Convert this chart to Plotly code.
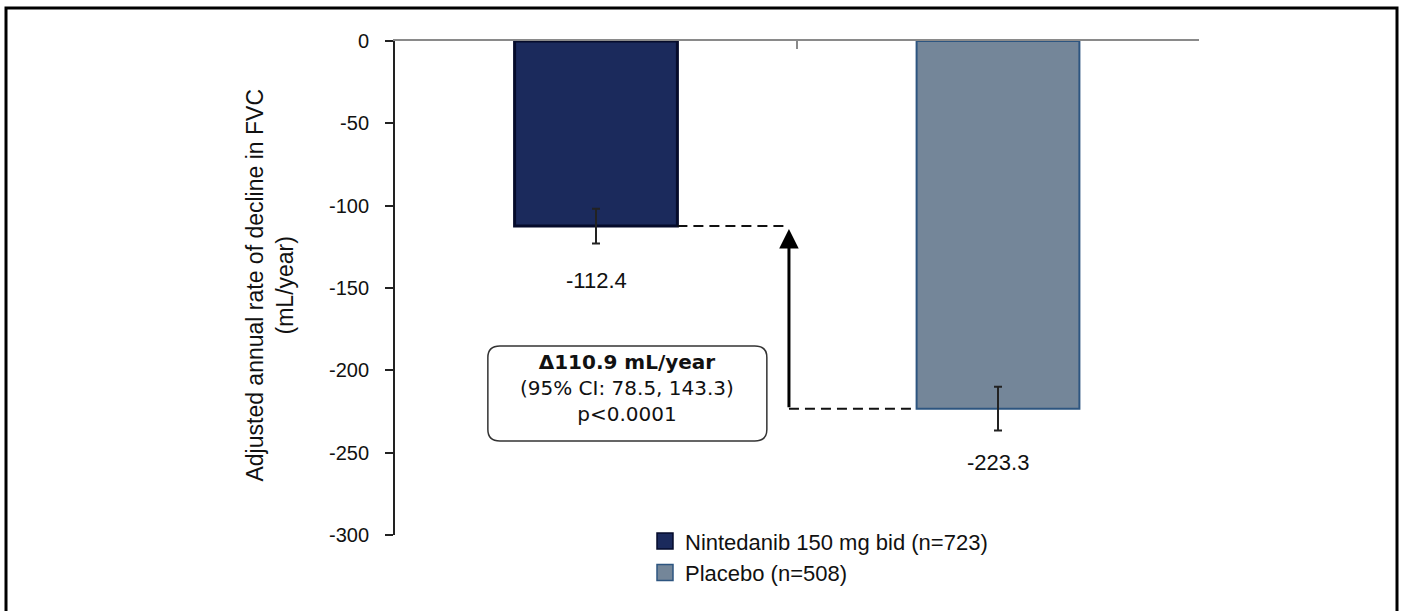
import plotly.graph_objects as go

# Treatment groups and adjusted annual FVC decline (mL/year)
groups = ["Nintedanib 150 mg bid (n=723)", "Placebo (n=508)"]
rates = [-112.4, -223.3]
errors = [10.5, 13.3]
fills = ["#1b2a5c", "#748699"]
outlines = ["#050b2b", "#2d5580"]

# Treatment difference summary
ci_low, ci_high = 78.5, 143.3
p_text = "p<0.0001"

y_ticks = [0, -50, -100, -150, -200, -250, -300]
y_tick_text = ["0", "-50", "-100", "-150", "-200", "-250", "-300"]

W, H = 1405, 611
M_L, M_R, M_T, M_B = 395, 206, 41, 76
BAR_W = 0.405
ARROW_X = 0.48
FONT = "Liberation Sans, Arial, sans-serif"
BOX_FONT = "DejaVu Sans, Liberation Sans, sans-serif"

fig = go.Figure()

for i, (g, v, e, f, o) in enumerate(zip(groups, rates, errors, fills, outlines)):
    fig.add_trace(go.Bar(
        x=[i], y=[v], width=BAR_W, name=g, showlegend=False,
        marker=dict(color=f, line=dict(color=o, width=3 if i == 0 else 2)),
        error_y=dict(type="data", array=[e], visible=True,
                     color="#222222", thickness=2, width=4),
    ))
    # legend swatch
    fig.add_trace(go.Scatter(
        x=[None], y=[None], mode="markers", name=g,
        marker=dict(symbol="square", size=16, color=f,
                    line=dict(color=o, width=1.5)),
    ))
    # value label under each bar
    fig.add_annotation(x=i, y=v, text=f"{v:.1f}", showarrow=False,
                       yshift=-54, font=dict(size=22, color="#111111", family=FONT))

# dashed connectors from each bar to the difference arrow
fig.add_shape(type="line", xref="x", yref="y",
              x0=0 + BAR_W / 2, x1=ARROW_X, y0=rates[0], y1=rates[0],
              line=dict(color="#111111", width=2, dash="10px,6px"))
fig.add_shape(type="line", xref="x", yref="y",
              x0=ARROW_X, x1=1 - BAR_W / 2, y0=rates[1], y1=rates[1],
              line=dict(color="#111111", width=2, dash="10px,6px"))

# vertical arrow showing the treatment difference
fig.add_annotation(x=ARROW_X, y=rates[0], ax=ARROW_X, ay=rates[1],
                   xref="x", yref="y", axref="x", ayref="y", text="",
                   showarrow=True, arrowhead=2, arrowsize=1.3, arrowwidth=3,
                   arrowcolor="#000000", standoff=3)

# rounded summary box
bx0, bx1 = -0.269, 0.425
by0, by1 = -242.9, -185.2
rx, ry = 0.03, 7.0
path = (f"M {bx0+rx},{by1} L {bx1-rx},{by1} Q {bx1},{by1} {bx1},{by1-ry} "
        f"L {bx1},{by0+ry} Q {bx1},{by0} {bx1-rx},{by0} "
        f"L {bx0+rx},{by0} Q {bx0},{by0} {bx0},{by0+ry} "
        f"L {bx0},{by1-ry} Q {bx0},{by1} {bx0+rx},{by1} Z")
fig.add_shape(type="path", xref="x", yref="y", path=path,
              line=dict(color="#333333", width=1.5), fillcolor="white")

delta = rates[0] - rates[1]
cx, cy = (bx0 + bx1) / 2, (by0 + by1) / 2
box_text = (f"<b>\u0394{delta:.1f} mL/year</b><br>"
            f"(95% CI: {ci_low}, {ci_high})<br>{p_text}")
fig.add_annotation(x=cx, y=cy, xref="x", yref="y", text=box_text, showarrow=False,
                   yshift=5, align="center",
                   font=dict(size=20, color="#111111", family=BOX_FONT))

# y-axis title
pw, ph = W - M_L - M_R, H - M_T - M_B
fig.add_annotation(xref="paper", yref="paper", x=(270 - M_L) / pw, y=0.505,
                   text="Adjusted annual rate of decline in FVC<br>(mL/year)",
                   textangle=-90, showarrow=False, xanchor="center", yanchor="middle",
                   font=dict(size=23, color="#111111", family=FONT))

# outer frame
fig.add_shape(type="rect", xref="paper", yref="paper",
              x0=(6 - M_L) / pw, x1=(1397 - M_L) / pw,
              y0=(H - M_B - 660) / ph, y1=(H - M_B - 8) / ph,
              line=dict(color="#000000", width=3), fillcolor="rgba(0,0,0,0)", layer="above")

fig.update_layout(
    width=W, height=H,
    margin=dict(l=M_L, r=M_R, t=M_T, b=M_B, pad=0),
    paper_bgcolor="white", plot_bgcolor="white",
    barmode="overlay",
    showlegend=True,
    legend=dict(x=(645 - M_L) / pw, y=0.03, xanchor="left", yanchor="top",
                font=dict(size=22, color="#111111", family=FONT),
                bgcolor="rgba(0,0,0,0)", tracegroupgap=0, itemsizing="trace"),
    xaxis=dict(range=[-0.5, 1.5], side="top", showline=True, linecolor="#8a8a8a",
               linewidth=2, tickvals=[0.5, 1.5], ticks="inside", ticklen=8,
               tickwidth=2, tickcolor="#8a8a8a", showticklabels=False,
               showgrid=False, zeroline=False, fixedrange=True),
    yaxis=dict(range=[-300, 0], tickvals=y_ticks, ticktext=y_tick_text,
               showline=True, linecolor="#222222",
               linewidth=2, ticks="outside", ticklen=8, tickwidth=2, tickcolor="#222222",
               showgrid=False, zeroline=False, ticklabelstandoff=12,
               tickfont=dict(size=20, color="#111111", family=FONT)),
)

fig.write_html("out.html")
